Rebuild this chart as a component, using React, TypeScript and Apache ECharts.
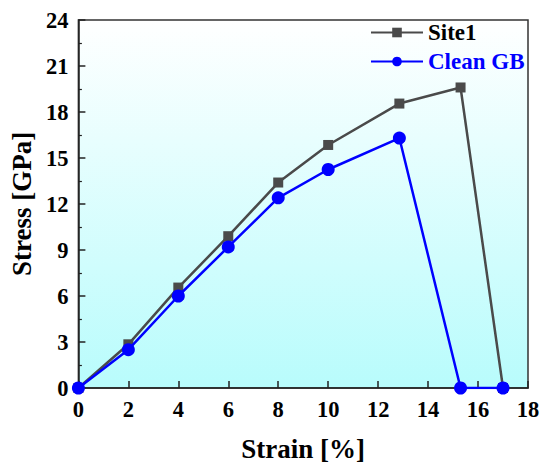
import React, { useEffect, useRef } from "react";
import * as echarts from "echarts";

const site1: [number, number][] = [
  [0, 0], [2, 2.85], [4, 6.55], [6, 9.9], [8, 13.4], [10, 15.85], [12.85, 18.55], [15.3, 19.6], [17, 0],
];
const cleanGB: [number, number][] = [
  [0, 0], [2, 2.5], [4, 6.0], [6, 9.2], [8, 12.4], [10, 14.25], [12.85, 16.3], [15.3, 0], [17, 0],
];
const seriesNames = ["Site1", "Clean GB"];
const xAxisName = "Strain [%]";
const yAxisName = "Stress [GPa]";

const FONT = "Liberation Serif";

export default function App() {
  const ref = useRef<HTMLDivElement>(null);
  useEffect(() => {
    if (!ref.current) return;
    const chart = echarts.init(ref.current, undefined, { renderer: "svg" });
    chart.setOption({
      animation: false,
      textStyle: { fontFamily: FONT },
      grid: {
        left: 72,
        right: 22,
        top: 20,
        bottom: 84,
        show: true,
        borderColor: "#333",
        borderWidth: 1.5,
        backgroundColor: new echarts.graphic.LinearGradient(0, 0, 0, 1, [
          { offset: 0, color: "#ffffff" },
          { offset: 1, color: "#b8fcfc" },
        ]),
      },
      legend: {
        orient: "vertical",
        left: 370,
        top: 21,
        padding: 0,
        itemWidth: 52,
        itemHeight: 12,
        itemGap: 6,
        data: [
          { name: seriesNames[0], textStyle: { color: "#000" } },
          { name: seriesNames[1], textStyle: { color: "#0000ff" } },
        ],
        textStyle: { fontFamily: FONT, fontWeight: "bold", fontSize: 23 },
      },
      xAxis: {
        type: "value",
        min: 0,
        max: 18,
        interval: 2,
        name: xAxisName,
        nameLocation: "middle",
        nameGap: 47,
        nameTextStyle: { fontFamily: FONT, fontWeight: "bold", fontSize: 27, color: "#000" },
        axisLine: { show: true, lineStyle: { color: "#222", width: 1.5 } },
        axisTick: { show: true, inside: true, length: 7, lineStyle: { color: "#222", width: 1.5 } },
        axisLabel: { fontFamily: FONT, fontWeight: "bold", fontSize: 22.5, color: "#000", margin: 10 },
        splitLine: { show: false },
      },
      yAxis: {
        type: "value",
        min: 0,
        max: 24,
        interval: 3,
        name: yAxisName,
        nameLocation: "middle",
        nameGap: 36,
        nameTextStyle: { fontFamily: FONT, fontWeight: "bold", fontSize: 27, color: "#000" },
        axisLine: { show: true, lineStyle: { color: "#222", width: 1.5 } },
        axisTick: { show: true, inside: true, length: 7, lineStyle: { color: "#222", width: 1.5 } },
        minorTick: { show: true, splitNumber: 2, length: 3.5, lineStyle: { color: "#222", width: 1.2 } },
        axisLabel: { fontFamily: FONT, fontWeight: "bold", fontSize: 22.5, color: "#000", margin: 10 },
        splitLine: { show: false },
      },
      series: [
        {
          name: seriesNames[0],
          type: "line",
          data: site1,
          symbol: "rect",
          symbolSize: 10,
          color: "#4a4a4a",
          lineStyle: { width: 2.5, color: "#4a4a4a" },
          itemStyle: { color: "#4a4a4a" },
          z: 2,
        },
        {
          name: seriesNames[1],
          type: "line",
          data: cleanGB,
          symbol: "circle",
          symbolSize: 13,
          color: "#0000ff",
          lineStyle: { width: 2.5, color: "#0000ff" },
          itemStyle: { color: "#0000ff" },
          z: 3,
        },
      ],
    });
    return () => chart.dispose();
  }, []);
  return (
    <div
      ref={ref}
      style={{ position: "absolute", left: 0, top: 0, width: 550, height: 472 }}
    />
  );
}
